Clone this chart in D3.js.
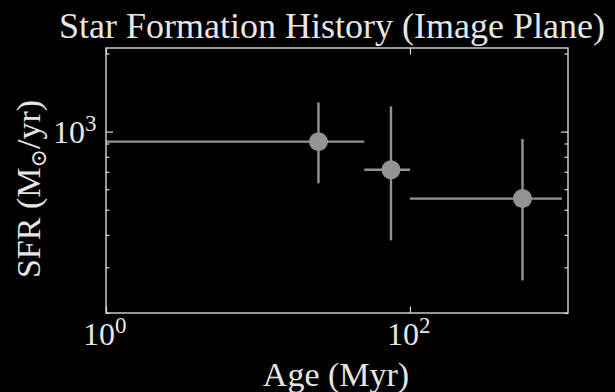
<!DOCTYPE html>
<meta charset="utf-8">
<style>
body { margin: 0; background: #000; }
svg { display: block; background: #000; }
text { font-family: "Liberation Serif", "DejaVu Serif", serif; fill: #e6e6e6; }
.frame { fill: none; stroke: #d9d9d9; stroke-width: 1.4px; }
.tick line { stroke: #d9d9d9; stroke-width: 1.2px; }
.err line { stroke: #939393; stroke-width: 2.4px; }
.pts circle { fill: #939393; }
</style>
<svg width="615" height="392" id="chart"></svg>
<script src="https://d3js.org/d3.v7.min.js"></script>
<script>
// age bins (Myr) and star formation rate (Msun/yr)
var ages   = [25, 75, 550];
var ageLo  = [0, 50, 100];
var ageHi  = [50, 100, 1000];
var sfr    = [915, 713, 552];
var sfrLo  = [632, 381, 267];
var sfrHi  = [1296, 1251, 937];

var xMajor = [1, 100];
var yMajor = [1000];
var yMinor = [200, 300, 400, 500, 600, 700, 800, 900, 2000];

var svg = d3.select("#chart");
var pLeft = 106, pRight = 568, pTop = 48, pBottom = 313;

var x = d3.scaleLog().domain([1, 1096]).range([pLeft, pRight]);
var y = d3.scaleLog().domain([200, 2100]).range([pBottom, pTop]);

var data = ages.map(function(a, i) {
  return { age: a, lo: Math.max(ageLo[i], x.domain()[0]), hi: ageHi[i],
           sfr: sfr[i], slo: sfrLo[i], shi: sfrHi[i] };
});

// ticks, pointing inwards on all four sides
function ticks(g, axis) {
  g.call(axis);
  g.select(".domain").remove();
  g.selectAll("text").remove();
}
svg.append("g").attr("transform", "translate(0," + pBottom + ")")
  .call(ticks, d3.axisBottom(x).tickValues(xMajor).tickSizeInner(-6.5).tickSizeOuter(0));
svg.append("g").attr("transform", "translate(0," + pTop + ")")
  .call(ticks, d3.axisTop(x).tickValues(xMajor).tickSizeInner(-6.5).tickSizeOuter(0));
svg.append("g").attr("transform", "translate(" + pLeft + ",0)")
  .call(ticks, d3.axisLeft(y).tickValues(yMajor).tickSizeInner(-7).tickSizeOuter(0));
svg.append("g").attr("transform", "translate(" + pRight + ",0)")
  .call(ticks, d3.axisRight(y).tickValues(yMajor).tickSizeInner(-7).tickSizeOuter(0));
svg.append("g").attr("transform", "translate(" + pLeft + ",0)")
  .call(ticks, d3.axisLeft(y).tickValues(yMinor).tickSizeInner(-3.5).tickSizeOuter(0));
svg.append("g").attr("transform", "translate(" + pRight + ",0)")
  .call(ticks, d3.axisRight(y).tickValues(yMinor).tickSizeInner(-3.5).tickSizeOuter(0));

// error bars
var err = svg.append("g").attr("class", "err");
err.selectAll(".xe").data(data).enter().append("line")
  .attr("x1", function(d) { return x(d.lo); })
  .attr("x2", function(d) { return x(d.hi); })
  .attr("y1", function(d) { return y(d.sfr); })
  .attr("y2", function(d) { return y(d.sfr); });
err.selectAll(".ye").data(data).enter().append("line")
  .attr("x1", function(d) { return x(d.age); })
  .attr("x2", function(d) { return x(d.age); })
  .attr("y1", function(d) { return y(d.slo); })
  .attr("y2", function(d) { return y(d.shi); });

svg.append("g").attr("class", "pts").selectAll("circle")
  .data(data).enter().append("circle")
  .attr("cx", function(d) { return x(d.age); })
  .attr("cy", function(d) { return y(d.sfr); })
  .attr("r", 9.5);

svg.append("rect").attr("class", "frame")
  .attr("x", pLeft).attr("y", pTop)
  .attr("width", pRight - pLeft).attr("height", pBottom - pTop);

// power-of-ten tick labels
function powLabel(g, v) {
  var t = g.append("text").style("font-size", "32px");
  t.append("tspan").text("10");
  t.append("tspan").attr("dy", -12).style("font-size", "23px")
    .text(Math.round(Math.log10(v)));
  return t;
}
xMajor.forEach(function(v) {
  powLabel(svg, v).attr("x", x(v) - 23).attr("y", 345);
});
yMajor.forEach(function(v) {
  powLabel(svg, v).attr("x", 53).attr("y", 143);
});

svg.append("text").attr("x", 332).attr("y", 38)
  .attr("text-anchor", "middle").style("font-size", "36px")
  .text("Star Formation History (Image Plane)");

svg.append("text").attr("x", 336).attr("y", 386)
  .attr("text-anchor", "middle").style("font-size", "34px")
  .text("Age (Myr)");

var yl = svg.append("text")
  .attr("transform", "translate(40,189) rotate(-90)")
  .attr("text-anchor", "middle").style("font-size", "34px");
yl.append("tspan").text("SFR (M");
yl.append("tspan").attr("dy", 6).style("font-size", "22px").text("\u2299");
yl.append("tspan").attr("dy", -6).text("/yr)");
</script>
